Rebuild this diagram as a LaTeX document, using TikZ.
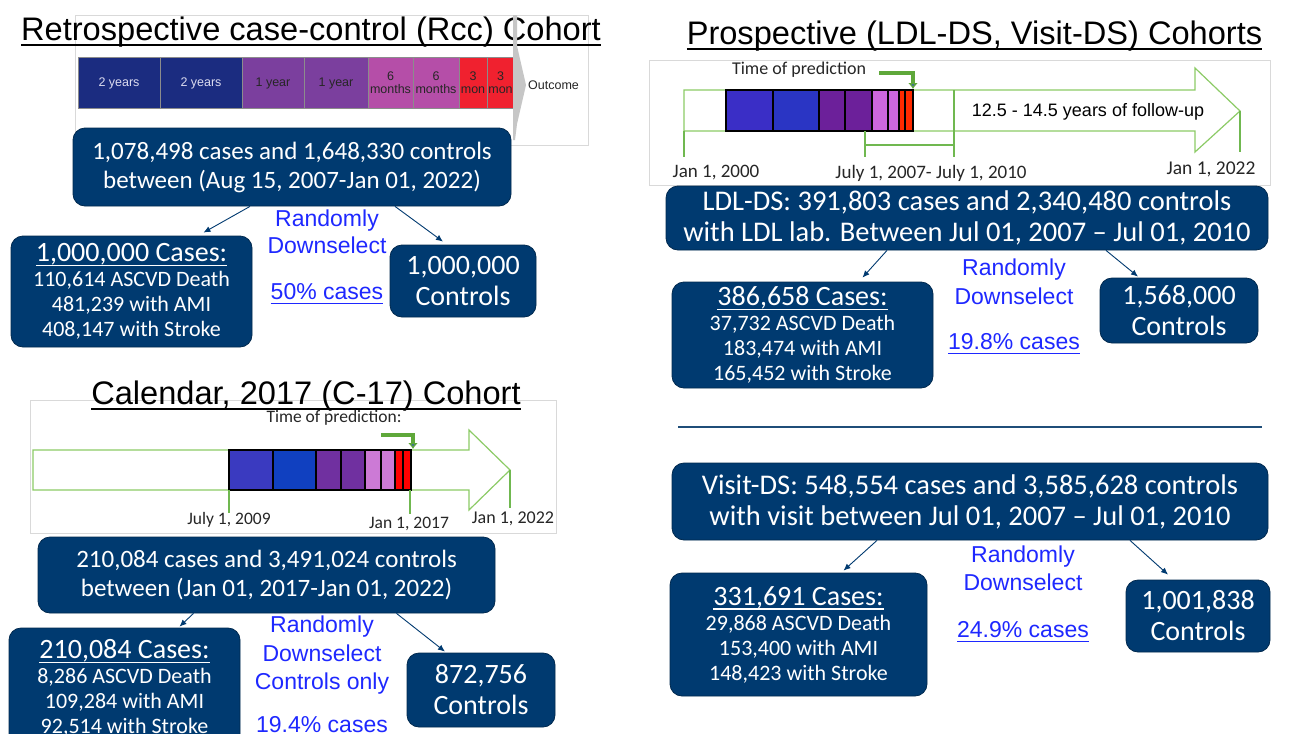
\documentclass[tikz,border=0pt]{standalone}
\usepackage{fontspec}
\setmainfont{Carlito}
\newfontfamily\arialfont{Liberation Sans}
\newcommand{\ulin}[2][3pt]{\vtop{\hbox{\raisebox{0pt}[\height][0pt]{#2}}\kern#1\hrule height 1.6pt}}
\usetikzlibrary{positioning,arrows.meta}

\definecolor{boxblue}{HTML}{003A70}
\definecolor{selblue}{HTML}{1E28FF}
\definecolor{tlgreen}{HTML}{8CCB66}
\definecolor{predgreen}{HTML}{5FA83A}
\definecolor{predtip}{HTML}{3C6E9A}
\definecolor{linegreen}{HTML}{70B850}
\definecolor{rulecol}{HTML}{1F4E79}
\definecolor{rccnavy}{HTML}{1B2C80}
\definecolor{rccpurple}{HTML}{7B3F9E}
\definecolor{rccpink}{HTML}{B54EA8}
\definecolor{rccred}{HTML}{F0212F}
\definecolor{segwhite}{HTML}{DCDCF0}
\definecolor{ldlblue}{HTML}{3A2EC6}
\definecolor{ldlblueb}{HTML}{2A35C4}
\definecolor{ldlpurple}{HTML}{6C209A}
\definecolor{ldlviolet}{HTML}{CC66DD}
\definecolor{ldlred}{HTML}{FF2A00}
\definecolor{cblue}{HTML}{3A3AC0}
\definecolor{cblueb}{HTML}{1040C0}
\definecolor{cpurple}{HTML}{7030A0}
\definecolor{cviolet}{HTML}{CC7AD6}
\definecolor{cred}{HTML}{FF0000}

\tikzset{
  bigbox/.style={fill=boxblue, draw=boxblue!70!black, line width=0.8pt,
    rounded corners=12pt, text=white, align=center, inner sep=0pt,
    font=\fontsize{25}{29}\selectfont},
  widebox/.style={bigbox, font=\fontsize{28.5}{31}\selectfont},
  casebox/.style={bigbox, font=\fontsize{22}{25}\selectfont},
  ctrlbox/.style={bigbox, font=\fontsize{28}{31}\selectfont},
  pick/.style={text=selblue, align=center, anchor=north, inner sep=0pt},
  cohort/.style={anchor=base, inner sep=0pt, font=\arialfont\fontsize{32.6}{36}\selectfont},
  seg/.style={anchor=west, inner sep=0pt, outer sep=0pt, minimum height=51pt,
    draw=black!45, line width=0.4pt, align=center, text=black!85,
    font=\arialfont\fontsize{12.5}{13}\selectfont},
  bar/.style={anchor=west, inner sep=0pt, outer sep=0pt, draw=black,
    line width=1.5pt},
  tlarrow/.style={draw=tlgreen, line width=1.2pt},
  tick/.style={draw=linegreen, line width=1.3pt},
  datelbl/.style={text=black!85, inner sep=0pt},
  link/.style={-{Latex[length=7pt,width=6pt]}, draw=boxblue, line width=0.9pt},
  predarrow/.style={draw=predgreen, line width=3.5pt,
    -{Latex[length=6pt,width=10pt,fill=predtip]}},
  framebox/.style={draw=black!15, line width=0.6pt},
}

\begin{document}
\begin{tikzpicture}[x=1pt, y=-1pt]
  \useasboundingbox[fill=white] (0,0) rectangle (1294,734);
  \draw[framebox] (75,15) rectangle (588,145);
  \draw[framebox] (649,60) rectangle (1270,185);
  \draw[framebox] (30,400) rectangle (556,533);

  % Rcc cohort
  \node[cohort] (rcctitle) at (311,40)
    {\ulin[4pt]{Retrospective case-control (Rcc) Cohort}};
  \node[seg, fill=rccnavy, text=segwhite, minimum width=82pt] (r1) at (78,83) {2 years};
  \node[seg, fill=rccnavy, text=segwhite, minimum width=82pt, right=0pt of r1] (r2) {2 years};
  \node[seg, fill=rccpurple, minimum width=62pt, right=0pt of r2] (r3) {1 year};
  \node[seg, fill=rccpurple, minimum width=64pt, right=0pt of r3] (r4) {1 year};
  \node[seg, fill=rccpink, minimum width=45pt, right=0pt of r4] (r5) {6\\months};
  \node[seg, fill=rccpink, minimum width=46pt, right=0pt of r5] (r6) {6\\months};
  \node[seg, fill=rccred, minimum width=28pt, right=0pt of r6] (r7) {3\\mon};
  \node[seg, fill=rccred, minimum width=27pt, right=0pt of r7] (r8) {3\\mon};
  \fill[gray!45] (513,15) -- (517,15) -- (517,46) -- (526,85) -- (517,124)
    -- (515,140) -- (513,140) -- cycle;
  \node[anchor=west, inner sep=0pt, text=black!85,
    font=\arialfont\fontsize{12.5}{13}\selectfont] (outcome) at (528,85) {Outcome};

  \node[bigbox, minimum width=438pt, minimum height=78pt] (rccall) at (292,167)
    {1,078,498 cases and 1,648,330 controls\\between (Aug 15, 2007-Jan 01, 2022)};
  \node[casebox, minimum width=241pt, minimum height=111pt] (rcccase) at (131.5,291.5)
    {{\fontsize{28}{25}\selectfont\ulin{1,000,000 Cases:}}\\110,614 ASCVD Death\\
     481,239 with AMI\\408,147 with Stroke};
  \node[ctrlbox, minimum width=146pt, minimum height=72pt] (rccctrl) at (463,281)
    {1,000,000\\Controls};
  \node[pick, font=\arialfont\fontsize{23}{27}\selectfont] (rccpick) at (327,210)
    {Randomly\\Downselect\\[19pt]\ulin{50\% cases}};
  \draw[link] ([xshift=-42pt]rccall.south) -- ([xshift=72pt,yshift=3pt]rcccase.north);
  \draw[link] ([xshift=103pt]rccall.south) -- ([xshift=-20pt,yshift=3pt]rccctrl.north);

  % C-17 cohort
  \node[cohort] (c17title) at (306,404) {\ulin[4pt]{Calendar, 2017 (C-17) Cohort}};
  \draw[tlarrow] (33,450) -- (469,450) -- (469,430) -- (510,470) -- (469,510)
    -- (469,490) -- (33,490) -- cycle;
  \node[bar, fill=cblue, minimum width=44pt, minimum height=40pt] (c1) at (229,470) {};
  \node[bar, fill=cblueb, minimum width=43pt, minimum height=40pt, right=0pt of c1] (c2) {};
  \node[bar, fill=cpurple, minimum width=25pt, minimum height=40pt, right=0pt of c2] (c3) {};
  \node[bar, fill=cpurple, minimum width=24pt, minimum height=40pt, right=0pt of c3] (c4) {};
  \node[bar, fill=cviolet, minimum width=16pt, minimum height=40pt, right=0pt of c4] (c5) {};
  \node[bar, fill=cviolet, minimum width=14pt, minimum height=40pt, right=0pt of c5] (c6) {};
  \node[bar, fill=cred, minimum width=8pt, minimum height=40pt, right=0pt of c6] (c7) {};
  \node[bar, fill=cred, minimum width=8pt, minimum height=40pt, right=0pt of c7] (c8) {};
  \draw[tick] (229,490) -- (229,513);
  \draw[tick] (410,490) -- (410,514);
  \draw[tick] (510,470) -- (510,508);
  \node[datelbl, font=\fontsize{17.5}{19}\selectfont] (c17start) at (229,520) {July 1, 2009};
  \node[datelbl, font=\fontsize{17.5}{19}\selectfont] (c17pred) at (409,524) {Jan 1, 2017};
  \node[datelbl, font=\fontsize{18}{19}\selectfont] (c17end) at (513,519) {Jan 1, 2022};
  \node[datelbl, font=\fontsize{17.5}{19}\selectfont] (c17time) at (334,418) {Time of prediction:};
  \draw[predarrow] (381,435) -- (413,435) -- (413,449);

  \node[bigbox, minimum width=457pt, minimum height=76pt] (c17all) at (266.5,575)
    {210,084 cases and 3,491,024 controls\\between (Jan 01, 2017-Jan 01, 2022)};
  \node[casebox, minimum width=231pt, minimum height=120pt] (c17case) at (124.5,688)
    {{\fontsize{28}{25}\selectfont\ulin{210,084 Cases:}}\\8,286 ASCVD Death\\
     109,284 with AMI\\92,514 with Stroke};
  \node[ctrlbox, minimum width=148pt, minimum height=74pt] (c17ctrl) at (481,690)
    {872,756\\Controls};
  \node[pick, font=\arialfont\fontsize{23}{28.5}\selectfont] (c17pick) at (322,616)
    {Randomly\\Downselect\\Controls only\\[14pt]19.4\% cases};
  \draw[link] ([xshift=-73pt]c17all.south) -- ([xshift=55pt,yshift=1pt]c17case.north);
  \draw[link] ([xshift=130pt]c17all.south) -- ([xshift=-36pt,yshift=1pt]c17ctrl.north);

  % prospective cohorts
  \node[cohort] (protitle) at (974.5,44)
    {\ulin[4pt]{Prospective (LDL-DS, Visit-DS) Cohorts}};
  \draw[tlarrow] (684,90) -- (1195,90) -- (1195,68) -- (1240,111) -- (1195,152)
    -- (1195,131) -- (684,131) -- cycle;
  \node[bar, fill=ldlblue, minimum width=47pt, minimum height=41pt] (l1) at (726,110.5) {};
  \node[bar, fill=ldlblueb, minimum width=46pt, minimum height=41pt, right=0pt of l1] (l2) {};
  \node[bar, fill=ldlpurple, minimum width=26pt, minimum height=41pt, right=0pt of l2] (l3) {};
  \node[bar, fill=ldlpurple, minimum width=27pt, minimum height=41pt, right=0pt of l3] (l4) {};
  \node[bar, fill=ldlviolet, minimum width=16pt, minimum height=41pt, right=0pt of l4] (l5) {};
  \node[bar, fill=ldlviolet, minimum width=11pt, minimum height=41pt, right=0pt of l5] (l6) {};
  \node[bar, fill=ldlred, minimum width=6pt, minimum height=41pt, right=0pt of l6] (l7) {};
  \node[bar, fill=ldlred, minimum width=8pt, minimum height=41pt, right=0pt of l7] (l8) {};
  \draw[tick] (684,131) -- (684,157);
  \draw[tick] (865,131) -- (865,157);
  \draw[tick] (954,90) -- (954,157);
  \draw[tick, line width=2.6pt] (865,145) -- (954,145);
  \draw[tick] (1240,111) -- (1240,152);
  \node[datelbl, font=\fontsize{19}{20}\selectfont] (ldlstart) at (716,173) {Jan 1, 2000};
  \node[datelbl, font=\fontsize{19}{20}\selectfont] (ldlwin) at (931,173) {July 1, 2007- July 1, 2010};
  \node[datelbl, font=\fontsize{19.5}{20}\selectfont] (ldlend) at (1211,169) {Jan 1, 2022};
  \node[datelbl, font=\fontsize{18}{20}\selectfont] (ldltime) at (799,70) {Time of prediction};
  \node[datelbl, text=black, font=\arialfont\fontsize{18}{20}\selectfont] (follow) at (1088,112)
    {12.5 - 14.5 years of follow-up};
  \draw[predarrow] (879,73) -- (913,73) -- (913,89);

  \node[widebox, minimum width=602pt, minimum height=64pt] (ldlall) at (967,218)
    {LDL-DS: 391,803 cases and 2,340,480 controls\\
     with LDL lab. Between Jul 01, 2007 – Jul 01, 2010};
  \node[casebox, minimum width=261pt, minimum height=106pt] (ldlcase) at (802.5,335)
    {{\fontsize{28}{25}\selectfont\ulin{386,658 Cases:}}\\37,732 ASCVD Death\\
     183,474 with AMI\\165,452 with Stroke};
  \node[ctrlbox, minimum width=158pt, minimum height=65pt] (ldlctrl) at (1179,310.5)
    {1,568,000\\Controls};
  \node[pick, font=\arialfont\fontsize{23}{29}\selectfont] (ldlpick) at (1014,259)
    {Randomly\\Downselect\\[16pt]\ulin{19.8\% cases}};
  \draw[link] ([xshift=-80pt]ldlall.south) -- ([xshift=60pt,yshift=4pt]ldlcase.north);
  \draw[link] ([xshift=139pt]ldlall.south) -- ([xshift=-41pt,yshift=1pt]ldlctrl.north);

  \draw[rulecol, line width=2.5pt] (678,427) -- (1262,427);

  \node[widebox, minimum width=596pt, minimum height=77pt] (visall) at (970,501.5)
    {Visit-DS: 548,554 cases and 3,585,628 controls\\
     with visit between Jul 01, 2007 – Jul 01, 2010};
  \node[casebox, minimum width=257pt, minimum height=123pt] (viscase) at (798.5,634.5)
    {{\fontsize{28}{25}\selectfont\ulin{331,691 Cases:}}\\29,868 ASCVD Death\\
     153,400 with AMI\\148,423 with Stroke};
  \node[ctrlbox, minimum width=144pt, minimum height=72pt] (visctrl) at (1198,616)
    {1,001,838\\Controls};
  \node[pick, font=\arialfont\fontsize{23}{28}\selectfont] (vispick) at (1023,546)
    {Randomly\\Downselect\\[19pt]\ulin{24.9\% cases}};
  \draw[link] ([xshift=-93pt]visall.south) -- ([xshift=45pt,yshift=2pt]viscase.north);
  \draw[link] ([xshift=160pt]visall.south) -- ([xshift=-30pt,yshift=5pt]visctrl.north);
\end{tikzpicture}
\end{document}
